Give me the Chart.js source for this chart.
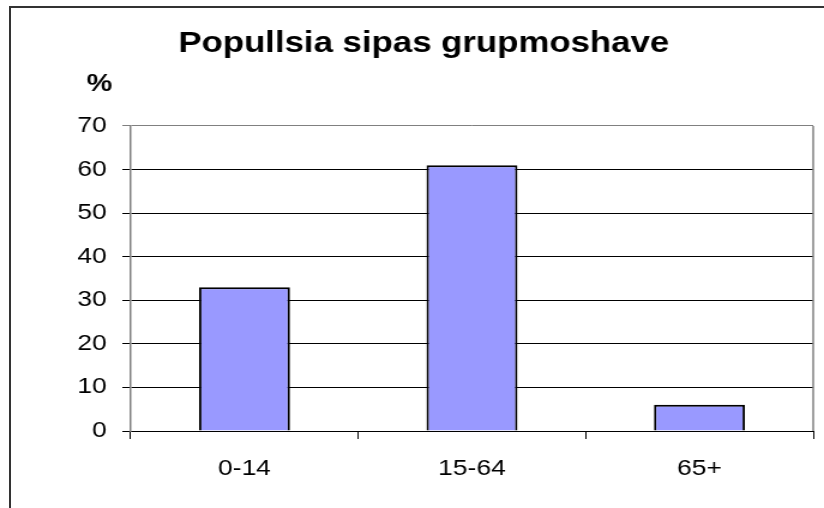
<!DOCTYPE html>
<html>
<head>
<meta charset="utf-8">
<script src="https://cdn.jsdelivr.net/npm/chart.js@4/dist/chart.umd.min.js"></script>
<style>
  html, body { margin: 0; padding: 0; background: #fff; overflow: hidden; }
  #frame { position: absolute; left: 9px; top: 6px; width: 830px; height: 520px;
           border-left: 2px solid #333; border-top: 2px solid #333; box-sizing: border-box; }
  #wrap { position: absolute; left: 0; top: 0; width: 687px; height: 508px;
          transform: scaleX(1.19942); transform-origin: 0 0; }
</style>
</head>
<body>
<div id="frame"></div>
<div id="wrap"><canvas id="c"></canvas></div>
<script>
const titleText = 'Popullsia sipas grupmoshave';
const unitLabel = '%';
const categories = ['0-14', '15-64', '65+'];
const values = [33, 61, 6];
const yMin = 0;
const yMax = 70;
const yStep = 10;

const FONT = '"Liberation Sans", Arial, sans-serif';

const frameAndUnit = {
  id: 'frameAndUnit',
  beforeDatasetsDraw(chart) {
    const {ctx, chartArea} = chart;
    ctx.save();
    ctx.strokeStyle = '#808080';
    ctx.lineWidth = 1.5;
    ctx.beginPath();
    ctx.moveTo(chartArea.right, chartArea.top);
    ctx.lineTo(chartArea.right, chartArea.bottom);
    ctx.stroke();
    ctx.restore();
  },
  afterDraw(chart) {
    const {ctx} = chart;
    ctx.save();
    ctx.fillStyle = '#000';
    ctx.font = 'bold 24px ' + FONT;
    ctx.textAlign = 'center';
    ctx.textBaseline = 'alphabetic';
    ctx.fillText(unitLabel, 83, 91);
    ctx.restore();
  }
};

new Chart(document.getElementById('c'), {
  type: 'bar',
  data: {
    labels: categories,
    datasets: [{
      data: values,
      backgroundColor: '#9999FF',
      borderColor: '#000',
      borderWidth: 2,
      barPercentage: 0.4,
      categoryPercentage: 1.0
    }]
  },
  options: {
    responsive: true,
    maintainAspectRatio: false,
    animation: false,
    layout: { padding: { left: 28.6, right: 9, top: 0, bottom: 0 } },
    plugins: {
      legend: { display: false },
      tooltip: { enabled: false },
      title: {
        display: true,
        text: titleText,
        color: '#000',
        font: { family: FONT, size: 29, weight: 'bold', lineHeight: 1.2 },
        padding: { top: 26.6, bottom: 64.6 }
      }
    },
    scales: {
      x: {
        offset: true,
        grid: {
          display: true,
          offset: true,
          drawOnChartArea: false,
          drawTicks: true,
          tickLength: 8,
          color: '#000',
          lineWidth: 1
        },
        border: { display: true, color: '#000', width: 1 },
        ticks: { color: '#000', padding: 17, font: { family: FONT, size: 22 } },
        afterFit(scale) { scale.height = 77; }
      },
      y: {
        min: yMin,
        max: yMax,
        grid: {
          color: (c) => (c.tick && c.tick.value === yMax) ? '#808080' : '#000',
          lineWidth: 1,
          tickLength: 7,
          drawTicks: true
        },
        border: { display: true, color: '#808080', width: 1.5 },
        ticks: { stepSize: yStep, color: '#000', padding: 13, font: { family: FONT, size: 22 } },
        afterFit(scale) { scale.width = 80.4; }
      }
    }
  },
  plugins: [frameAndUnit]
});
</script>
</body>
</html>
